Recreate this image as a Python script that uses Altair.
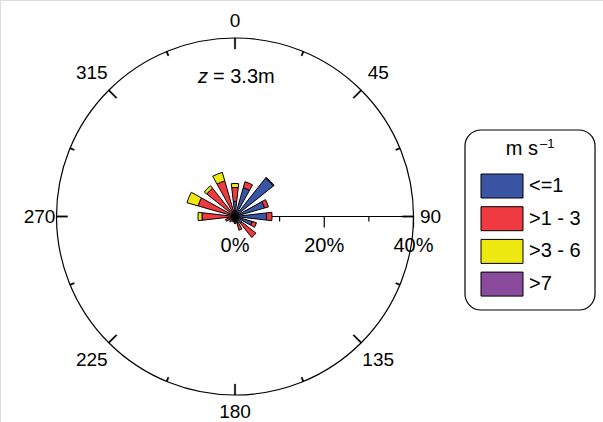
import altair as alt
import numpy as np
import pandas as pd

# Wind direction bins (degrees from north) and frequency (%) of each speed class
directions = [0, 22.5, 45, 67.5, 90, 112.5, 135, 157.5, 180, 202.5, 225, 247.5, 270, 292.5, 315, 337.5]
freq_le1 = [3.4, 6.7, 11.0, 6.9, 7.1, 4.0, 2.0, 1.5, 0.8, 0.5, 0.6, 0.8, 1.0, 1.0, 1.0, 1.2]
freq_1_3 = [3.1, 1.4, 0.2, 0.9, 1.2, 1.0, 4.0, 1.7, 0.8, 0.8, 1.0, 1.4, 6.4, 7.6, 7.1, 7.1]
freq_3_6 = [0.9, 0, 0, 0, 0, 0, 0, 0, 0, 0, 0, 0, 0.9, 2.6, 0.7, 2.0]
freq_gt7 = [0] * 16

classes = ["<=1", ">1 - 3", ">3 - 6", ">7"]
colors = ["#3B55A5", "#EE3A40", "#EDE80F", "#8B4B9D"]

compass_ticks = [0, 22.5, 45, 67.5, 90, 112.5, 135, 157.5, 180, 202.5, 225, 247.5, 270, 292.5, 315, 337.5]
compass_labels = ["0", "45", "90", "135", "180", "225", "270", "315"]
radial_major = [20, 40]
radial_minor = [10, 30]
radial_labels = ["0%", "20%", "40%"]
max_pct = 40

# Layout of the polar panel (pixels)
W, H = 603, 422
CX, CY, R = 235, 216.5, 178.5
HALF = 6.5  # half width of each wedge, degrees
FONT = "Liberation Sans"

# Legend box geometry (pixels)
LX0, LX1, LY0, LY1 = 465, 595, 130, 310
SW_X0, SW_X1 = 481, 523
ROWS_TOP, ROW_H, ROW_GAP = 174, 24, 8.7

# Stacked wedges: cumulative radius per direction
rows = []
for i, d in enumerate(directions):
    base = 0.0
    for cls, vals in zip(classes, [freq_le1, freq_1_3, freq_3_6, freq_gt7]):
        v = vals[i]
        if v > 0:
            rows.append({"t0": d - HALF, "t1": d + HALF, "r0": base, "r1": base + v, "cls": cls})
            base += v
wedges = pd.DataFrame(rows)

px_to_pct = max_pct / R
ticks = pd.DataFrame({
    "t0": [a - 0.25 for a in compass_ticks],
    "t1": [a + 0.25 for a in compass_ticks],
    "r0": [max_pct - (11 if a % 45 == 0 else 4.5) * px_to_pct for a in compass_ticks],
    "r1": [max_pct] * len(compass_ticks),
})

lab_angles = [45 * i for i in range(len(compass_labels))]
deg_labels = pd.DataFrame({
    "t": lab_angles,
    "r": [max_pct + (17 if a % 90 == 0 else 24) * px_to_pct for a in lab_angles],
    "lab": compass_labels,
})

theta_scale = alt.Scale(domain=[0, 360], range=[0, 2 * np.pi])
radius_scale = alt.Scale(type="linear", domain=[0, max_pct], range=[0, R])
x_scale = alt.Scale(domain=[0, max_pct], range=[CX, CX + R])
color_scale = alt.Scale(domain=classes, range=colors)
n = len(classes)
rows_bottom = ROWS_TOP + n * ROW_H + (n - 1) * ROW_GAP
legend_y = alt.Scale(
    type="band", domain=classes, range=[ROWS_TOP, rows_bottom],
    paddingInner=ROW_GAP / (ROW_H + ROW_GAP), paddingOuter=0,
)

cx = alt.value(CX)
cy = alt.value(CY)

outer = alt.Chart(pd.DataFrame({"t0": [0], "t1": [360], "r1": [max_pct]})).mark_arc(
    stroke="black", strokeWidth=1.2, fillOpacity=0
).encode(
    theta=alt.Theta("t0:Q", scale=theta_scale, stack=None),
    theta2="t1:Q",
    radius=alt.Radius("r1:Q", scale=radius_scale),
    x=cx, y=cy,
)

tick_layer = alt.Chart(ticks).mark_arc(fill="black", stroke="black", strokeWidth=0.3).encode(
    theta=alt.Theta("t0:Q", scale=theta_scale, stack=None),
    theta2="t1:Q",
    radius=alt.Radius("r1:Q", scale=radius_scale),
    radius2="r0:Q",
    x=cx, y=cy,
)

label_layer = alt.Chart(deg_labels).mark_text(
    font=FONT, fontSize=19, align="center", baseline="middle", color="black"
).encode(
    theta=alt.Theta("t:Q", scale=theta_scale, stack=None),
    radius=alt.Radius("r:Q", scale=radius_scale),
    text="lab:N",
    x=cx, y=cy,
)

wedge_layer = alt.Chart(wedges).mark_arc(stroke="black", strokeWidth=1, opacity=1).encode(
    theta=alt.Theta("t0:Q", scale=theta_scale, stack=None),
    theta2="t1:Q",
    radius=alt.Radius("r1:Q", scale=radius_scale),
    radius2="r0:Q",
    color=alt.Color("cls:N", scale=color_scale, legend=None),
    x=cx, y=cy,
)

# Radial percentage axis along the east bearing
axis_line = alt.Chart(pd.DataFrame({"a": [0], "b": [max_pct]})).mark_rule(
    color="black", strokeWidth=1.2
).encode(
    x=alt.X("a:Q", scale=x_scale, axis=None),
    x2="b:Q",
    y=cy,
)
major_ticks = alt.Chart(pd.DataFrame({"v": radial_major})).mark_rule(
    color="black", strokeWidth=1.2
).encode(
    x=alt.X("v:Q", scale=x_scale, axis=None),
    y=cy,
    y2=alt.value(CY + 11),
)
minor_ticks = alt.Chart(pd.DataFrame({"v": radial_minor})).mark_rule(
    color="black", strokeWidth=1.2
).encode(
    x=alt.X("v:Q", scale=x_scale, axis=None),
    y=cy,
    y2=alt.value(CY + 5),
)
radial_text = alt.Chart(pd.DataFrame({"v": [0, 20, 40], "lab": radial_labels})).mark_text(
    font=FONT, fontSize=20, align="center", baseline="middle", color="black"
).encode(
    x=alt.X("v:Q", scale=x_scale, axis=None),
    y=alt.value(CY + 29),
    text="lab:N",
)

# Height annotation inside the rose
z_text = alt.Chart(pd.DataFrame({"s": ["z"]})).mark_text(
    font=FONT, fontSize=20, fontStyle="italic", align="right", baseline="alphabetic", color="black"
).encode(x=alt.value(208), y=alt.value(83), text="s:N")
h_text = alt.Chart(pd.DataFrame({"s": ["= 3.3m"]})).mark_text(
    font=FONT, fontSize=20, align="left", baseline="alphabetic", color="black"
).encode(x=alt.value(213), y=alt.value(83), text="s:N")

# Wind speed key in a rounded box
legend_df = pd.DataFrame({"cls": classes})
key_box = alt.Chart(pd.DataFrame({"k": [0]})).mark_rect(
    fill="white", stroke="black", strokeWidth=1.2, cornerRadius=16
).encode(x=alt.value(LX0), x2=alt.value(LX1), y=alt.value(LY0), y2=alt.value(LY1))
key_title = alt.Chart(pd.DataFrame({"s": ["m s"]})).mark_text(
    font=FONT, fontSize=20, align="right", baseline="alphabetic", color="black"
).encode(x=alt.value(538), y=alt.value(155), text="s:N")
key_title_sup = alt.Chart(pd.DataFrame({"s": ["\u20131"]})).mark_text(
    font=FONT, fontSize=13, align="left", baseline="alphabetic", color="black"
).encode(x=alt.value(540), y=alt.value(148), text="s:N")
key_swatch = alt.Chart(legend_df).mark_rect(stroke="black", strokeWidth=1).encode(
    x=alt.value(SW_X0), x2=alt.value(SW_X1),
    y=alt.Y("cls:N", scale=legend_y, axis=None, sort=classes),
    color=alt.Color("cls:N", scale=color_scale, legend=None),
)
key_label = alt.Chart(legend_df).mark_text(
    font=FONT, fontSize=20, align="left", baseline="middle", color="black"
).encode(
    x=alt.value(529),
    y=alt.Y("cls:N", scale=legend_y, axis=None, sort=classes),
    text="cls:N",
)

chart = alt.layer(
    outer, tick_layer, label_layer, axis_line, major_ticks, minor_ticks, radial_text,
    wedge_layer, z_text, h_text, key_box, key_title, key_title_sup, key_swatch, key_label,
).properties(
    width=W, height=H, autosize=alt.AutoSizeParams(type="none"), padding=0,
).configure_view(stroke=None).configure(background="white")

chart.save("out.html", embed_options={"renderer": "svg", "actions": False})
